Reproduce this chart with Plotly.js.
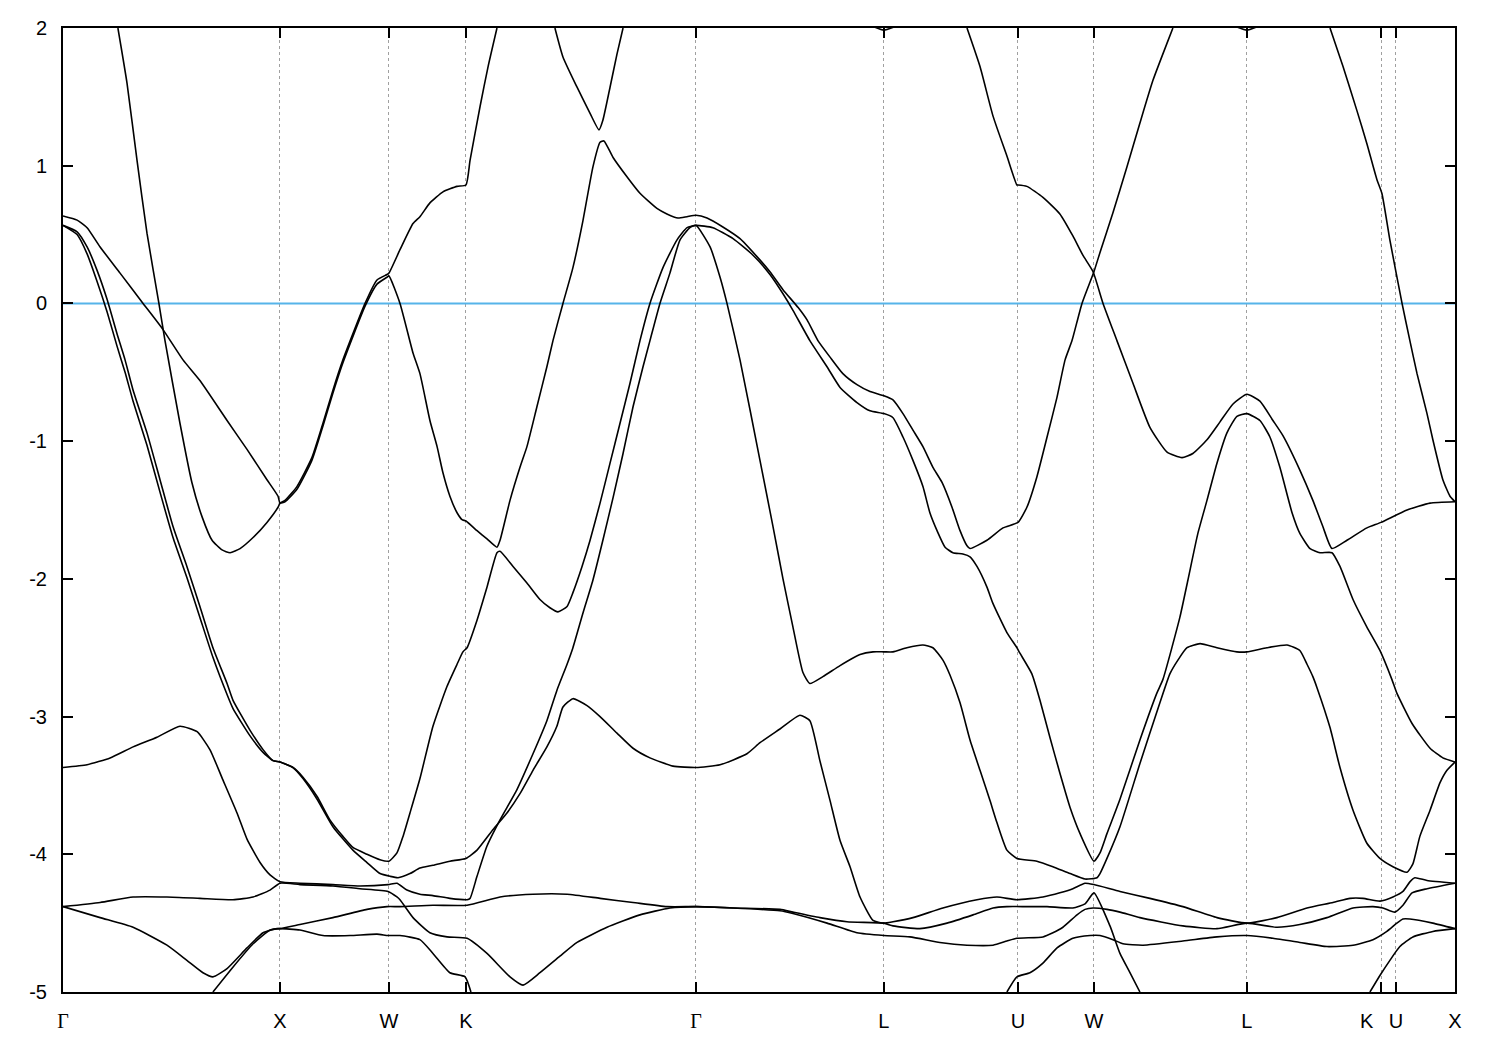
<!DOCTYPE html>
<html>
<head>
<meta charset="utf-8">
<script src="https://cdn.plot.ly/plotly-3.0.1.min.js"></script>
<style>html,body{margin:0;padding:0;background:#fff;}#chart{width:1500px;height:1050px;}</style>
</head>
<body>
<div id="chart"></div>
<script>
// High-symmetry points along the k-path (units of 2pi/a)
const kTicks = [0, 1.0, 1.502, 1.857, 2.917, 3.783, 4.401, 4.751, 5.456, 6.074, 6.143, 6.415];
const kLabels = ['<span style="font-family:Liberation Serif">Γ</span>','X','W','K','<span style="font-family:Liberation Serif">Γ</span>','L','U','W','L','K','U','X'];
const eTicks = [-5, -4, -3, -2, -1, 0, 1, 2];
const eLabels = ['-5', '-4', '-3', '-2', '-1', '0', '1', '2'];
const fermiLevel = 0;
// the K label next to U is set slightly left of its tick, as in the original
const shiftedLabelIndex = 9;

// Bands: [k, E(eV)]
const band01 = [[0.253,2.0],[0.295,1.60],[0.341,1.04],[0.387,0.51],[0.442,0.0],[0.470,-0.27],[0.539,-0.87],[0.594,-1.30],[0.641,-1.55],[0.687,-1.72],[0.733,-1.79],[0.770,-1.81],[0.816,-1.78],[0.876,-1.70],[0.940,-1.59],[0.991,-1.48],[1.000,-1.45],[1.023,-1.43],[1.078,-1.33],[1.147,-1.12],[1.198,-0.87],[1.244,-0.63],[1.290,-0.41],[1.392,0.0],[1.447,0.17],[1.493,0.21],[1.502,0.22],[1.553,0.39],[1.613,0.58],[1.645,0.63],[1.691,0.73],[1.751,0.81],[1.816,0.85],[1.857,0.86],[1.876,1.04],[1.922,1.43],[1.959,1.72],[2.000,2.0]];

const band02 = [[0,0.635],[0.065,0.605],[0.111,0.55],[0.171,0.41],[0.263,0.22],[0.369,0.0],[0.461,-0.19],[0.553,-0.41],[0.631,-0.56],[0.756,-0.85],[0.848,-1.06],[0.940,-1.28],[0.991,-1.40],[1.000,-1.45],[1.023,-1.44],[1.078,-1.35],[1.147,-1.14],[1.198,-0.89],[1.244,-0.65],[1.290,-0.43],[1.392,-0.02],[1.447,0.14],[1.493,0.19],[1.502,0.20],[1.553,0.0],[1.613,-0.36],[1.645,-0.51],[1.691,-0.85],[1.724,-1.04],[1.751,-1.23],[1.783,-1.40],[1.816,-1.52],[1.839,-1.57],[1.857,-1.58],[1.908,-1.65],[1.954,-1.71],[2.000,-1.77],[2.014,-1.72],[2.060,-1.43],[2.106,-1.19],[2.138,-1.04],[2.184,-0.75],[2.230,-0.46],[2.258,-0.27],[2.304,0.0],[2.350,0.26],[2.396,0.60],[2.442,0.99],[2.475,1.17],[2.493,1.18],[2.535,1.06],[2.599,0.92],[2.659,0.80],[2.737,0.69],[2.783,0.65],[2.834,0.62],[2.876,0.63],[2.917,0.64],[2.968,0.62],[3.041,0.555],[3.120,0.47],[3.198,0.34],[3.258,0.23],[3.318,0.10],[3.388,-0.03],[3.429,-0.12],[3.479,-0.27],[3.535,-0.39],[3.594,-0.51],[3.659,-0.59],[3.719,-0.64],[3.783,-0.67],[3.825,-0.70],[3.871,-0.80],[3.917,-0.92],[3.963,-1.04],[4.009,-1.19],[4.051,-1.30],[4.097,-1.48],[4.134,-1.65],[4.166,-1.76],[4.180,-1.78],[4.258,-1.72],[4.332,-1.63],[4.401,-1.59],[4.442,-1.48],[4.488,-1.26],[4.535,-0.97],[4.581,-0.68],[4.618,-0.41],[4.650,-0.27],[4.696,0.0],[4.751,0.23],[4.779,0.37],[4.839,0.66],[4.903,0.99],[4.963,1.31],[5.023,1.62],[5.088,1.89],[5.115,2.0]];

const band03 = [[4.166,2.0],[4.226,1.72],[4.286,1.36],[4.350,1.07],[4.396,0.86],[4.401,0.86],[4.442,0.85],[4.516,0.77],[4.594,0.65],[4.654,0.49],[4.700,0.35],[4.747,0.23],[4.793,0.0],[4.857,-0.27],[4.931,-0.58],[5.009,-0.90],[5.088,-1.08],[5.157,-1.12],[5.207,-1.09],[5.272,-0.99],[5.332,-0.86],[5.392,-0.73],[5.456,-0.66],[5.516,-0.71],[5.576,-0.85],[5.622,-0.96],[5.700,-1.21],[5.760,-1.43],[5.806,-1.62],[5.848,-1.78],[5.917,-1.72],[6.009,-1.63],[6.074,-1.59],[6.194,-1.50],[6.300,-1.45],[6.415,-1.44]];

const band04 = [[5.839,2.0],[5.899,1.72],[5.963,1.40],[6.009,1.16],[6.055,0.90],[6.078,0.80],[6.115,0.46],[6.171,0.0],[6.207,-0.27],[6.240,-0.51],[6.286,-0.80],[6.313,-0.99],[6.359,-1.28],[6.392,-1.40],[6.415,-1.44]];

const band05 = [[2.267,2.0],[2.304,1.79],[2.369,1.57],[2.429,1.38],[2.470,1.26],[2.488,1.33],[2.521,1.57],[2.553,1.81],[2.581,2.0]];

const band06 = [[3.72,2.02],[3.783,1.985],[3.85,2.02]];
const band07 = [[5.39,2.02],[5.456,1.985],[5.52,2.02]];

const band08 = [[0,0.567],[0.065,0.52],[0.111,0.41],[0.157,0.24],[0.203,0.03],[0.249,-0.22],[0.286,-0.41],[0.323,-0.63],[0.387,-0.94],[0.447,-1.28],[0.507,-1.62],[0.571,-1.91],[0.631,-2.20],[0.691,-2.50],[0.756,-2.76],[0.783,-2.88],[0.862,-3.10],[0.922,-3.24],[0.968,-3.32],[1.0,-3.33],[1.060,-3.37],[1.106,-3.44],[1.171,-3.58],[1.230,-3.75],[1.290,-3.87],[1.336,-3.95],[1.401,-4.00],[1.461,-4.04],[1.502,-4.05],[1.539,-3.99],[1.567,-3.87],[1.599,-3.70],[1.645,-3.45],[1.705,-3.07],[1.770,-2.78],[1.816,-2.62],[1.843,-2.53],[1.862,-2.50],[1.908,-2.30],[1.954,-2.06],[2.000,-1.81],[2.014,-1.80],[2.074,-1.91],[2.138,-2.03],[2.198,-2.15],[2.244,-2.21],[2.281,-2.24],[2.323,-2.20],[2.350,-2.10],[2.392,-1.91],[2.429,-1.72],[2.475,-1.45],[2.521,-1.16],[2.567,-0.87],[2.613,-0.58],[2.659,-0.27],[2.705,0.0],[2.765,0.26],[2.829,0.46],[2.876,0.55],[2.917,0.567],[2.995,0.55],[3.088,0.47],[3.180,0.35],[3.258,0.21],[3.318,0.07],[3.364,-0.05],[3.442,-0.27],[3.521,-0.46],[3.581,-0.61],[3.659,-0.72],[3.719,-0.78],[3.783,-0.80],[3.825,-0.83],[3.871,-0.97],[3.917,-1.14],[3.963,-1.33],[3.995,-1.52],[4.028,-1.65],[4.065,-1.77],[4.101,-1.81],[4.147,-1.82],[4.180,-1.84],[4.212,-1.91],[4.258,-2.06],[4.286,-2.18],[4.350,-2.39],[4.396,-2.50],[4.410,-2.54],[4.465,-2.69],[4.502,-2.88],[4.548,-3.15],[4.594,-3.41],[4.641,-3.66],[4.687,-3.85],[4.751,-4.05],[4.779,-3.99],[4.811,-3.85],[4.871,-3.60],[4.963,-3.17],[5.041,-2.83],[5.069,-2.73],[5.147,-2.28],[5.184,-2.01],[5.230,-1.67],[5.272,-1.43],[5.318,-1.16],[5.364,-0.94],[5.410,-0.82],[5.456,-0.80],[5.516,-0.85],[5.562,-0.97],[5.608,-1.19],[5.664,-1.52],[5.700,-1.67],[5.747,-1.78],[5.793,-1.81],[5.848,-1.81],[5.885,-1.91],[5.945,-2.15],[6.009,-2.35],[6.069,-2.52],[6.124,-2.73],[6.147,-2.83],[6.217,-3.05],[6.300,-3.23],[6.359,-3.30],[6.415,-3.33]];

const band09 = [[0,0.567],[0.065,0.50],[0.111,0.36],[0.157,0.16],[0.203,-0.06],[0.249,-0.31],[0.286,-0.50],[0.323,-0.71],[0.387,-1.03],[0.447,-1.37],[0.507,-1.70],[0.571,-1.99],[0.631,-2.28],[0.691,-2.57],[0.756,-2.84],[0.783,-2.94],[0.862,-3.14],[0.922,-3.26],[0.968,-3.32],[1.0,-3.33],[1.060,-3.37],[1.106,-3.45],[1.171,-3.60],[1.244,-3.80],[1.336,-3.97],[1.401,-4.06],[1.461,-4.14],[1.507,-4.16],[1.544,-4.17],[1.599,-4.14],[1.645,-4.10],[1.705,-4.08],[1.783,-4.05],[1.857,-4.03],[1.908,-3.97],[1.982,-3.82],[2.046,-3.70],[2.106,-3.56],[2.166,-3.39],[2.230,-3.22],[2.276,-3.07],[2.304,-2.93],[2.350,-2.87],[2.415,-2.92],[2.475,-3.00],[2.553,-3.12],[2.627,-3.23],[2.705,-3.30],[2.811,-3.36],[2.917,-3.37],[3.028,-3.35],[3.152,-3.27],[3.212,-3.19],[3.304,-3.09],[3.396,-2.99],[3.442,-3.03],[3.488,-3.32],[3.535,-3.61],[3.581,-3.90],[3.627,-4.09],[3.673,-4.31],[3.733,-4.48],[3.783,-4.50],[3.825,-4.49],[3.917,-4.46],[4.055,-4.39],[4.212,-4.33],[4.304,-4.31],[4.396,-4.33],[4.516,-4.31],[4.594,-4.28],[4.654,-4.25],[4.710,-4.21],[4.751,-4.22],[4.871,-4.27],[5.009,-4.32],[5.161,-4.38],[5.318,-4.46],[5.456,-4.50],[5.594,-4.46],[5.733,-4.39],[5.853,-4.35],[5.931,-4.32],[5.991,-4.32],[6.069,-4.34],[6.129,-4.31],[6.175,-4.27],[6.207,-4.20],[6.230,-4.17],[6.286,-4.19],[6.415,-4.21]];

const band10 = [[0,-3.37],[0.111,-3.35],[0.217,-3.30],[0.323,-3.22],[0.433,-3.15],[0.539,-3.07],[0.618,-3.11],[0.677,-3.24],[0.737,-3.46],[0.802,-3.70],[0.848,-3.89],[0.908,-4.06],[0.954,-4.15],[1.0,-4.20],[1.092,-4.21],[1.244,-4.22],[1.369,-4.23],[1.498,-4.22],[1.539,-4.21],[1.585,-4.26],[1.645,-4.29],[1.705,-4.30],[1.783,-4.32],[1.862,-4.33],[1.876,-4.32],[1.908,-4.16],[1.954,-3.94],[2.014,-3.75],[2.092,-3.53],[2.166,-3.27],[2.230,-3.03],[2.276,-2.81],[2.323,-2.62],[2.350,-2.50],[2.396,-2.25],[2.442,-2.01],[2.488,-1.72],[2.535,-1.41],[2.581,-1.09],[2.627,-0.75],[2.673,-0.46],[2.705,-0.27],[2.751,0.0],[2.797,0.22],[2.843,0.46],[2.889,0.55],[2.917,0.567],[2.982,0.41],[3.028,0.19],[3.060,0.0],[3.120,-0.41],[3.212,-1.14],[3.272,-1.62],[3.318,-2.0],[3.364,-2.35],[3.410,-2.68],[3.442,-2.76],[3.502,-2.71],[3.581,-2.63],[3.673,-2.55],[3.733,-2.53],[3.783,-2.53],[3.825,-2.53],[3.889,-2.50],[3.963,-2.48],[4.009,-2.50],[4.055,-2.59],[4.088,-2.70],[4.134,-2.90],[4.180,-3.17],[4.226,-3.39],[4.272,-3.61],[4.304,-3.77],[4.350,-3.97],[4.396,-4.03],[4.488,-4.05],[4.562,-4.09],[4.641,-4.14],[4.710,-4.18],[4.765,-4.17],[4.779,-4.14],[4.811,-4.03],[4.871,-3.80],[4.963,-3.34],[5.055,-2.90],[5.101,-2.69],[5.138,-2.59],[5.180,-2.50],[5.240,-2.47],[5.318,-2.50],[5.410,-2.53],[5.456,-2.53],[5.548,-2.50],[5.641,-2.48],[5.700,-2.52],[5.733,-2.62],[5.760,-2.71],[5.779,-2.79],[5.839,-3.08],[5.885,-3.37],[5.945,-3.68],[6.009,-3.92],[6.069,-4.03],[6.129,-4.09],[6.194,-4.13],[6.221,-4.07],[6.253,-3.87],[6.300,-3.68],[6.346,-3.48],[6.378,-3.39],[6.415,-3.33]];

const band11 = [[0,-4.38],[0.171,-4.35],[0.323,-4.31],[0.479,-4.31],[0.631,-4.32],[0.783,-4.33],[0.876,-4.31],[0.954,-4.26],[1.0,-4.21],[1.092,-4.22],[1.244,-4.23],[1.369,-4.25],[1.498,-4.27],[1.539,-4.31],[1.553,-4.33],[1.613,-4.46],[1.691,-4.57],[1.770,-4.60],[1.862,-4.61],[1.954,-4.72],[2.060,-4.89],[2.120,-4.95],[2.198,-4.86],[2.290,-4.74],[2.369,-4.64],[2.507,-4.53],[2.659,-4.44],[2.797,-4.39],[2.917,-4.38],[3.088,-4.39],[3.304,-4.41],[3.364,-4.43],[3.521,-4.50],[3.659,-4.57],[3.783,-4.59],[3.903,-4.60],[4.041,-4.64],[4.166,-4.66],[4.286,-4.66],[4.350,-4.63],[4.396,-4.61],[4.516,-4.60],[4.562,-4.57],[4.608,-4.53],[4.673,-4.44],[4.710,-4.40],[4.747,-4.39],[4.811,-4.40],[4.871,-4.42],[4.963,-4.46],[5.161,-4.52],[5.318,-4.54],[5.456,-4.50],[5.594,-4.53],[5.700,-4.51],[5.825,-4.46],[5.945,-4.39],[6.037,-4.38],[6.083,-4.39],[6.138,-4.42],[6.175,-4.37],[6.217,-4.28],[6.286,-4.25],[6.415,-4.21]];

const band12 = [[0,-4.38],[0.171,-4.46],[0.323,-4.53],[0.479,-4.66],[0.571,-4.77],[0.645,-4.86],[0.691,-4.89],[0.756,-4.83],[0.848,-4.68],[0.922,-4.57],[0.986,-4.54],[1.0,-4.54],[1.092,-4.51],[1.244,-4.46],[1.401,-4.40],[1.493,-4.38],[1.553,-4.38],[1.705,-4.37],[1.862,-4.37],[2.014,-4.31],[2.166,-4.29],[2.323,-4.29],[2.475,-4.32],[2.627,-4.35],[2.783,-4.38],[2.917,-4.38],[3.088,-4.39],[3.304,-4.40],[3.364,-4.42],[3.488,-4.46],[3.613,-4.49],[3.783,-4.50],[3.825,-4.52],[3.949,-4.54],[4.074,-4.50],[4.194,-4.44],[4.286,-4.39],[4.350,-4.38],[4.442,-4.38],[4.535,-4.38],[4.654,-4.39],[4.710,-4.36],[4.751,-4.28],[4.825,-4.52],[4.871,-4.72],[4.917,-4.86],[4.963,-5.0]];

const band13 = [[0.691,-5.0],[0.783,-4.82],[0.876,-4.65],[0.954,-4.55],[1.0,-4.54],[1.092,-4.55],[1.198,-4.59],[1.323,-4.59],[1.447,-4.58],[1.498,-4.59],[1.553,-4.59],[1.645,-4.62],[1.705,-4.72],[1.783,-4.86],[1.853,-4.89],[1.880,-5.0]];

const band14 = [[4.350,-5.0],[4.396,-4.89],[4.456,-4.86],[4.516,-4.79],[4.581,-4.68],[4.654,-4.61],[4.733,-4.59],[4.779,-4.59],[4.839,-4.62],[4.885,-4.65],[4.977,-4.66],[5.161,-4.63],[5.318,-4.60],[5.456,-4.59],[5.576,-4.61],[5.700,-4.64],[5.825,-4.67],[5.945,-4.66],[6.037,-4.62],[6.101,-4.56],[6.147,-4.50],[6.175,-4.47],[6.207,-4.47],[6.313,-4.50],[6.415,-4.54]];

const band15 = [[6.023,-5.0],[6.069,-4.88],[6.115,-4.77],[6.161,-4.67],[6.221,-4.60],[6.313,-4.56],[6.415,-4.54]];

const bands = [band01, band02, band03, band04, band05, band06, band07, band08, band09, band10, band11, band12, band13, band14, band15];

const traces = [];
traces.push({
  x: [kTicks[0], kTicks[kTicks.length - 1]],
  y: [fermiLevel, fermiLevel],
  mode: 'lines',
  line: {color: 'rgb(86,180,233)', width: 2},
  hoverinfo: 'skip',
  showlegend: false
});
bands.forEach(b => {
  traces.push({
    x: b.map(p => p[0]),
    y: b.map(p => p[1]),
    mode: 'lines',
    line: {color: '#000', width: 1.6, shape: 'spline', smoothing: 0.5},
    hoverinfo: 'skip',
    showlegend: false
  });
});

const tickText = kLabels.map((t, i) => (i === shiftedLabelIndex ? '' : t));
const labelFont = {family: 'Liberation Sans, Arial, sans-serif', size: 20, color: '#000'};

const layout = {
  width: 1500,
  height: 1050,
  paper_bgcolor: '#fff',
  plot_bgcolor: '#fff',
  margin: {l: 63, r: 45, t: 28, b: 58},
  showlegend: false,
  font: {family: 'Liberation Sans, Arial, sans-serif', size: 19, color: '#000'},
  xaxis: {
    range: [kTicks[0], kTicks[kTicks.length - 1]],
    tickmode: 'array',
    tickvals: kTicks,
    ticktext: tickText,
    tickangle: 0,
    ticks: 'inside',
    ticklen: 10,
    tickwidth: 2,
    tickcolor: '#000',
    showline: true,
    linecolor: '#000',
    linewidth: 2,
    mirror: 'ticks',
    showgrid: true,
    gridcolor: '#a0a0a0',
    gridwidth: 1,
    griddash: '3px,3px',
    zeroline: false,
    ticklabelstandoff: 10,
    tickfont: labelFont
  },
  yaxis: {
    range: [-5, 2],
    tickmode: 'array',
    tickvals: eTicks,
    ticktext: eLabels,
    ticks: 'inside',
    ticklen: 10,
    tickwidth: 2,
    tickcolor: '#000',
    showline: true,
    linecolor: '#000',
    linewidth: 2,
    mirror: 'ticks',
    showgrid: false,
    zeroline: false,
    ticklabelstandoff: 10,
    tickfont: labelFont
  },
  annotations: [{
    x: kTicks[shiftedLabelIndex],
    xref: 'x',
    y: 0,
    yref: 'paper',
    text: kLabels[shiftedLabelIndex],
    showarrow: false,
    xanchor: 'center',
    yanchor: 'top',
    xshift: -14,
    yshift: -16,
    font: labelFont
  }]
};

Plotly.newPlot('chart', traces, layout, {staticPlot: true, displayModeBar: false});
</script>
</body>
</html>
